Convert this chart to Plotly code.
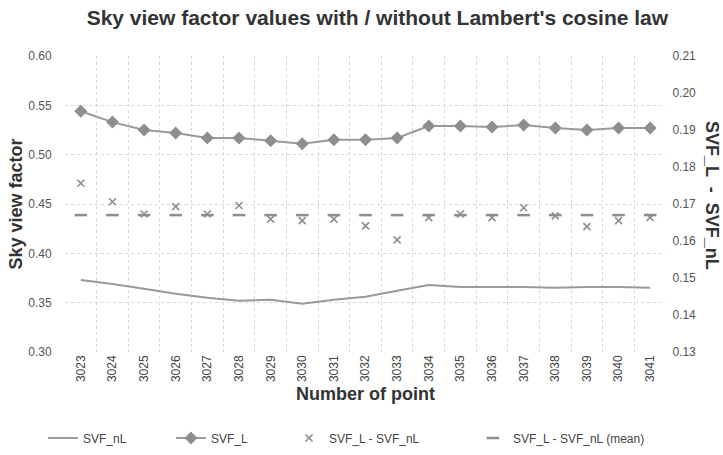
import plotly.graph_objects as go

points = ["3023", "3024", "3025", "3026", "3027", "3028", "3029", "3030", "3031", "3032",
          "3033", "3034", "3035", "3036", "3037", "3038", "3039", "3040", "3041"]

svf_nl = [0.373, 0.369, 0.364, 0.359, 0.355, 0.352, 0.353, 0.349, 0.353, 0.356,
          0.362, 0.368, 0.366, 0.366, 0.366, 0.365, 0.366, 0.366, 0.365]

svf_l = [0.544, 0.533, 0.525, 0.522, 0.517, 0.517, 0.514, 0.511, 0.515, 0.515,
         0.517, 0.529, 0.529, 0.528, 0.530, 0.527, 0.525, 0.527, 0.527]

diff = [0.1756, 0.1706, 0.1673, 0.1693, 0.1673, 0.1696, 0.1659, 0.1655, 0.1659, 0.1641,
        0.1603, 0.1663, 0.1673, 0.1663, 0.1690, 0.1668, 0.1639, 0.1655, 0.1664]

diff_mean = [0.167, 0.167, 0.167, 0.167, 0.167, 0.167, 0.167, 0.167, 0.167, 0.167,
             0.167, 0.167, 0.167, 0.167, 0.167, 0.167, 0.167, 0.167, 0.167]

FONT = "Liberation Sans, Arial, sans-serif"
GRAY = "#8e8e8e"

fig = go.Figure()

fig.add_trace(go.Scatter(
    x=points, y=svf_nl, name="SVF_nL", mode="lines", showlegend=True,
    line=dict(color="#999999", width=2), legend="legend"))

fig.add_trace(go.Scatter(
    x=points, y=svf_l, name="SVF_L", mode="lines+markers", showlegend=True,
    line=dict(color="#999999", width=2),
    marker=dict(symbol="diamond", size=10, color=GRAY), legend="legend2"))

fig.add_trace(go.Scatter(
    x=points, y=diff, name="SVF_L - SVF_nL", mode="markers", yaxis="y2", showlegend=True,
    marker=dict(symbol="x-thin", size=7, color=GRAY, line=dict(width=1.6, color=GRAY)),
    legend="legend3"))

fig.add_trace(go.Scatter(
    x=points, y=diff_mean, name="SVF_L - SVF_nL (mean)", mode="markers", yaxis="y2",
    showlegend=True,
    marker=dict(symbol="line-ew", size=9, color=GRAY, line=dict(width=2.5, color=GRAY)),
    legend="legend4"))

grid = dict(showgrid=True, gridcolor="#d8d8d8", griddash="dot", gridwidth=1)

legend_common = dict(xref="container", yref="container", yanchor="middle",
                     y=1 - 438 / 455, orientation="h", bgcolor="rgba(0,0,0,0)",
                     font=dict(family=FONT, size=12, color="#444444"))

fig.update_layout(
    width=723, height=455,
    showlegend=True,
    margin=dict(l=65, r=57, t=56, b=103, autoexpand=False),
    paper_bgcolor="white", plot_bgcolor="white",
    font=dict(family=FONT, color="#444444"),
    title=dict(text="<b>Sky view factor values with / without Lambert's cosine law</b>",
               x=0.522, xanchor="center", y=1 - 18 / 455, yanchor="middle",
               font=dict(family=FONT, size=21, color="#333333")),
    xaxis=dict(type="category", tickson="boundaries", tickangle=-90,
               range=[-0.5, 18.5], autorange=False,
               ticks="", showline=False, zeroline=False, automargin=False,
               tickfont=dict(family=FONT, size=12, color="#444444"),
               title=dict(text="<b>Number of point</b>", standoff=6,
                          font=dict(family=FONT, size=18, color="#333333")),
               **grid),
    yaxis=dict(range=[0.30, 0.60], dtick=0.05, tickformat=".2f",
               ticks="outside", ticklen=10, tickcolor="rgba(0,0,0,0)",
               showline=False, zeroline=False, automargin=False,
               tickfont=dict(family=FONT, size=12, color="#555555"),
               title=dict(text="<b>Sky view factor</b>", standoff=0,
                          font=dict(family=FONT, size=18, color="#333333")),
               **grid),
    yaxis2=dict(range=[0.13, 0.21], dtick=0.01, tickformat=".2f",
                overlaying="y", side="right", showgrid=False, zeroline=False,
                automargin=False,
                ticks="outside", ticklen=3, tickcolor="rgba(0,0,0,0)",
                tickfont=dict(family=FONT, size=12, color="#555555")),
    legend=dict(x=(87 - 44) / 723, **legend_common),
    legend2=dict(x=(215 - 44) / 723, **legend_common),
    legend3=dict(x=(333 - 44) / 723, **legend_common),
    legend4=dict(x=(517 - 44) / 723, **legend_common),
    annotations=[dict(text="<b>SVF_L  -  SVF_nL</b>", textangle=90,
                      xref="paper", yref="paper", x=(712 - 65) / (723 - 65 - 57),
                      y=1 - (195 - 56) / (455 - 56 - 103), xanchor="center", yanchor="middle",
                      showarrow=False, font=dict(family=FONT, size=18, color="#333333"))],
)

fig.write_html("out.html", config={"displayModeBar": False},
               post_script="document.body.style.margin='0';document.body.style.overflow='hidden';")
